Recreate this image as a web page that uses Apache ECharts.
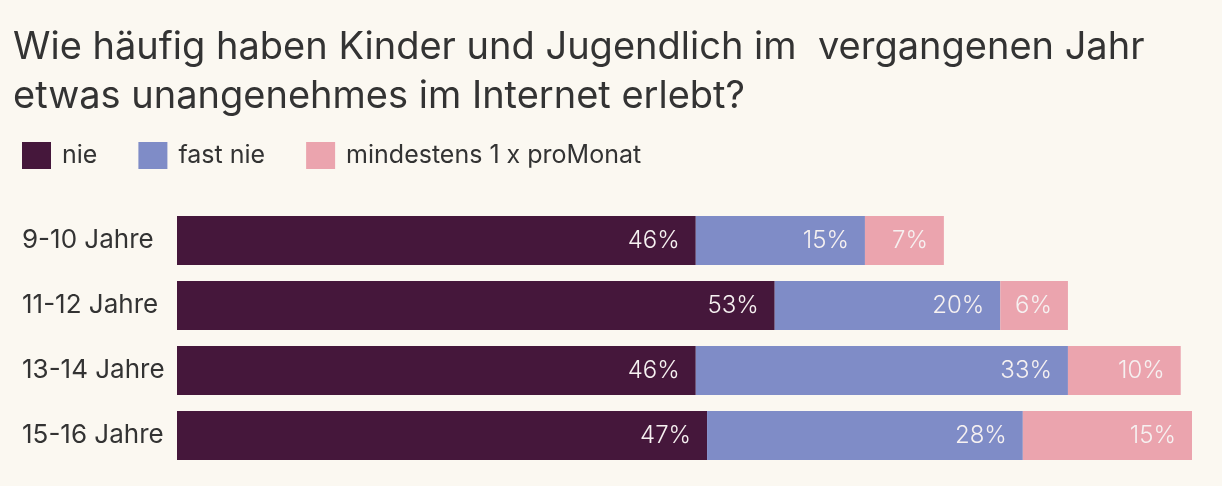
<!DOCTYPE html>
<html>
<head>
<meta charset="utf-8">
<script src="https://cdn.jsdelivr.net/npm/echarts@6/dist/echarts.min.js"></script>
<style>
  html, body { margin: 0; padding: 0; background: #fbf8f1; }
  #chart { width: 1222px; height: 486px; }
</style>
</head>
<body>
<div id="chart"></div>
<script>
// Age groups, top to bottom
const categories = ['9-10 Jahre', '11-12 Jahre', '13-14 Jahre', '15-16 Jahre'];
// Share of children per answer (%)
const nie = [46, 53, 46, 47];
const fastNie = [15, 20, 33, 28];
const mindestensMonat = [7, 6, 10, 15];
const seriesNames = ['nie', 'fast nie', 'mindestens 1 x proMonat'];
const colors = ['#45173b', '#7f8cc7', '#eba4ae'];

const FONT = 'Inter, "Noto Sans", sans-serif';

const chart = echarts.init(document.getElementById('chart'), null, { renderer: 'canvas' });

function barSeries(name, values, color) {
  return {
    name: name,
    type: 'bar',
    stack: 'total',
    barWidth: 49,
    data: values,
    itemStyle: { color: color },
    label: {
      show: true,
      position: 'insideRight',
      distance: 16,
      formatter: '{c}%',
      color: '#f6f1f1',
      fontFamily: FONT,
      fontSize: 24,
      fontWeight: 300
    },
    emphasis: { disabled: true }
  };
}

chart.setOption({
  backgroundColor: '#fbf8f1',
  animation: false,
  title: {
    text: 'Wie häufig haben Kinder und Jugendlich im  vergangenen Jahr\netwas unangenehmes im Internet erlebt?',
    left: 13,
    top: 23,
    padding: 0,
    textStyle: {
      fontFamily: FONT,
      fontSize: 38,
      fontWeight: 'normal',
      color: '#333333',
      lineHeight: 49
    }
  },
  legend: {
    left: 22,
    top: 142,
    padding: 0,
    itemWidth: 29,
    itemHeight: 27,
    itemGap: 41,
    icon: 'rect',
    data: seriesNames,
    textStyle: {
      fontFamily: FONT,
      fontSize: 25,
      color: '#333333',
      padding: [4, 0, 0, 6]
    }
  },
  grid: {
    left: 177,
    right: 30,
    top: 208,
    bottom: 18,
    containLabel: false
  },
  xAxis: {
    type: 'value',
    min: 0,
    max: 90,
    show: false
  },
  yAxis: {
    type: 'category',
    inverse: true,
    data: categories,
    axisLine: { show: false },
    axisTick: { show: false },
    axisLabel: {
      align: 'left',
      margin: 155,
      fontFamily: FONT,
      fontSize: 26,
      color: '#333333'
    }
  },
  series: [
    barSeries(seriesNames[0], nie, colors[0]),
    barSeries(seriesNames[1], fastNie, colors[1]),
    barSeries(seriesNames[2], mindestensMonat, colors[2])
  ]
});
</script>
</body>
</html>
